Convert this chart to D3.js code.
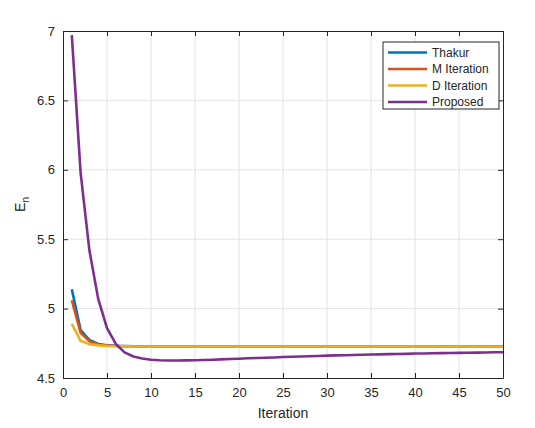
<!DOCTYPE html>
<html>
<head>
<meta charset="utf-8">
<script src="https://cdn.jsdelivr.net/npm/d3@7"></script>
<style>
body{margin:0;background:#fff;}
text{font-family:"Liberation Sans",Arial,sans-serif;fill:#262626;}
</style>
</head>
<body>
<div id="chart"></div>
<script>
// iteration index 1..50
var iterations = d3.range(1, 51);
var seriesNames = ["Thakur", "M Iteration", "D Iteration", "Proposed"];
var seriesColors = ["#0072BD", "#D95319", "#EDB120", "#7E2F8E"];

var thakur = [5.14, 4.845, 4.775, 4.745, 4.736, 4.732, 4.730, 4.729, 4.729, 4.729,
	4.729, 4.729, 4.729, 4.729, 4.729, 4.729, 4.729, 4.729, 4.729, 4.729,
	4.729, 4.729, 4.729, 4.729, 4.729, 4.729, 4.729, 4.729, 4.729, 4.729,
	4.729, 4.729, 4.729, 4.729, 4.729, 4.729, 4.729, 4.729, 4.729, 4.729,
	4.729, 4.729, 4.729, 4.729, 4.729, 4.729, 4.729, 4.729, 4.729, 4.729];
var mIteration = [5.06, 4.825, 4.765, 4.741, 4.734, 4.731, 4.729, 4.728, 4.728, 4.728,
	4.728, 4.728, 4.728, 4.728, 4.728, 4.728, 4.728, 4.728, 4.728, 4.728,
	4.728, 4.728, 4.728, 4.728, 4.728, 4.728, 4.728, 4.728, 4.728, 4.728,
	4.728, 4.728, 4.728, 4.728, 4.728, 4.728, 4.728, 4.728, 4.728, 4.728,
	4.728, 4.728, 4.728, 4.728, 4.728, 4.728, 4.728, 4.728, 4.728, 4.728];
var dIteration = [4.89, 4.768, 4.744, 4.735, 4.731, 4.729, 4.728, 4.727, 4.727, 4.727,
	4.727, 4.727, 4.727, 4.727, 4.727, 4.727, 4.727, 4.727, 4.727, 4.727,
	4.727, 4.727, 4.727, 4.727, 4.727, 4.727, 4.727, 4.727, 4.727, 4.727,
	4.727, 4.727, 4.727, 4.727, 4.727, 4.727, 4.727, 4.727, 4.727, 4.727,
	4.727, 4.727, 4.727, 4.727, 4.727, 4.727, 4.727, 4.727, 4.727, 4.727];
var proposed = [6.97, 5.98, 5.42, 5.07, 4.86, 4.745, 4.685, 4.655, 4.640, 4.632,
	4.628, 4.626, 4.626, 4.627, 4.628, 4.630, 4.632, 4.634, 4.637, 4.639,
	4.642, 4.644, 4.646, 4.648, 4.651, 4.653, 4.655, 4.657, 4.659, 4.661,
	4.663, 4.664, 4.666, 4.667, 4.669, 4.670, 4.672, 4.673, 4.674, 4.676,
	4.677, 4.678, 4.679, 4.680, 4.681, 4.682, 4.683, 4.684, 4.685, 4.686];

var xTicks = d3.range(0, 51, 5);
var yTicks = [4.5, 5, 5.5, 6, 6.5, 7];

var allSeries = [thakur, mIteration, dIteration, proposed];

//set margins
var width = 535, height = 428;
var margins = {left:63, right:32, top:31, bottom:50};
var plotW = width - margins.left - margins.right;
var plotH = height - margins.top - margins.bottom;

var svg = d3.select("#chart").append("svg")
	.attr("width", width)
	.attr("height", height);

var g = svg.append("g")
	.attr("transform", "translate(" + margins.left + "," + margins.top + ")");

var x = d3.scaleLinear().domain([0, 50]).range([0, plotW]);
var y = d3.scaleLinear().domain([4.5, 7]).range([plotH, 0]);

// grid
g.append("g").selectAll("line").data(xTicks.slice(1, -1)).enter()
	.append("line")
	.attr("x1", d => x(d)).attr("x2", d => x(d))
	.attr("y1", 0).attr("y2", plotH)
	.attr("stroke", "#e3e3e3").attr("stroke-width", 1);
g.append("g").selectAll("line").data(yTicks.slice(1, -1)).enter()
	.append("line")
	.attr("y1", d => y(d)).attr("y2", d => y(d))
	.attr("x1", 0).attr("x2", plotW)
	.attr("stroke", "#e3e3e3").attr("stroke-width", 1);

// lines
var line = d3.line()
	.x((d, i) => x(iterations[i]))
	.y(d => y(d));

g.append("g").selectAll("path").data(allSeries).enter()
	.append("path")
	.attr("d", line)
	.attr("fill", "none")
	.attr("stroke", (d, i) => seriesColors[i])
	.attr("stroke-width", 2.6)
	.attr("stroke-linejoin", "round");

// axes (ticks inside, box on)
var xAxis = d3.axisBottom(x).tickValues(xTicks).tickSizeInner(-5).tickSizeOuter(0).tickPadding(10);
var yAxis = d3.axisLeft(y).tickValues(yTicks).tickSizeInner(-5).tickSizeOuter(0).tickPadding(8)
	.tickFormat(d3.format("~g"));

var gx = g.append("g").attr("transform", "translate(0," + plotH + ")").call(xAxis);
var gy = g.append("g").call(yAxis);
var gxt = g.append("g").call(d3.axisTop(x).tickValues(xTicks).tickSizeInner(-5).tickSizeOuter(0).tickFormat(""));
var gyr = g.append("g").attr("transform", "translate(" + plotW + ",0)")
	.call(d3.axisRight(y).tickValues(yTicks).tickSizeInner(-5).tickSizeOuter(0).tickFormat(""));

[gx, gy, gxt, gyr].forEach(function(a){
	a.select(".domain").attr("stroke", "#262626").attr("stroke-width", 1);
	a.selectAll(".tick line").attr("stroke", "#262626");
	a.selectAll(".tick text").attr("font-size", 13).attr("fill", "#262626")
		.attr("font-family", "Liberation Sans, Arial, sans-serif");
});

// axis labels
g.append("text")
	.attr("x", plotW / 2).attr("y", plotH + 40)
	.attr("text-anchor", "middle")
	.attr("font-size", 14)
	.text("Iteration");

var yl = g.append("text")
	.attr("transform", "translate(" + (-38) + "," + (plotH / 2) + ") rotate(-90)")
	.attr("text-anchor", "middle")
	.attr("font-size", 14);
yl.append("tspan").text("E");
yl.append("tspan").attr("font-size", 10).attr("dy", 4).text("n");

// legend
var legend = svg.append("g").attr("transform", "translate(383,42)");
legend.append("rect")
	.attr("width", 116).attr("height", 67)
	.attr("fill", "#fff").attr("stroke", "#262626").attr("stroke-width", 1);
var items = legend.selectAll("g.item").data(seriesNames).enter()
	.append("g").attr("class", "item")
	.attr("transform", (d, i) => "translate(0," + (10.5 + i * 16.5) + ")");
items.append("line")
	.attr("x1", 5).attr("x2", 44)
	.attr("stroke", (d, i) => seriesColors[i])
	.attr("stroke-width", 2.6);
items.append("text")
	.attr("x", 49).attr("dy", "0.35em")
	.attr("font-size", 12)
	.attr("fill", "#000")
	.text(d => d);
</script>
</body>
</html>
